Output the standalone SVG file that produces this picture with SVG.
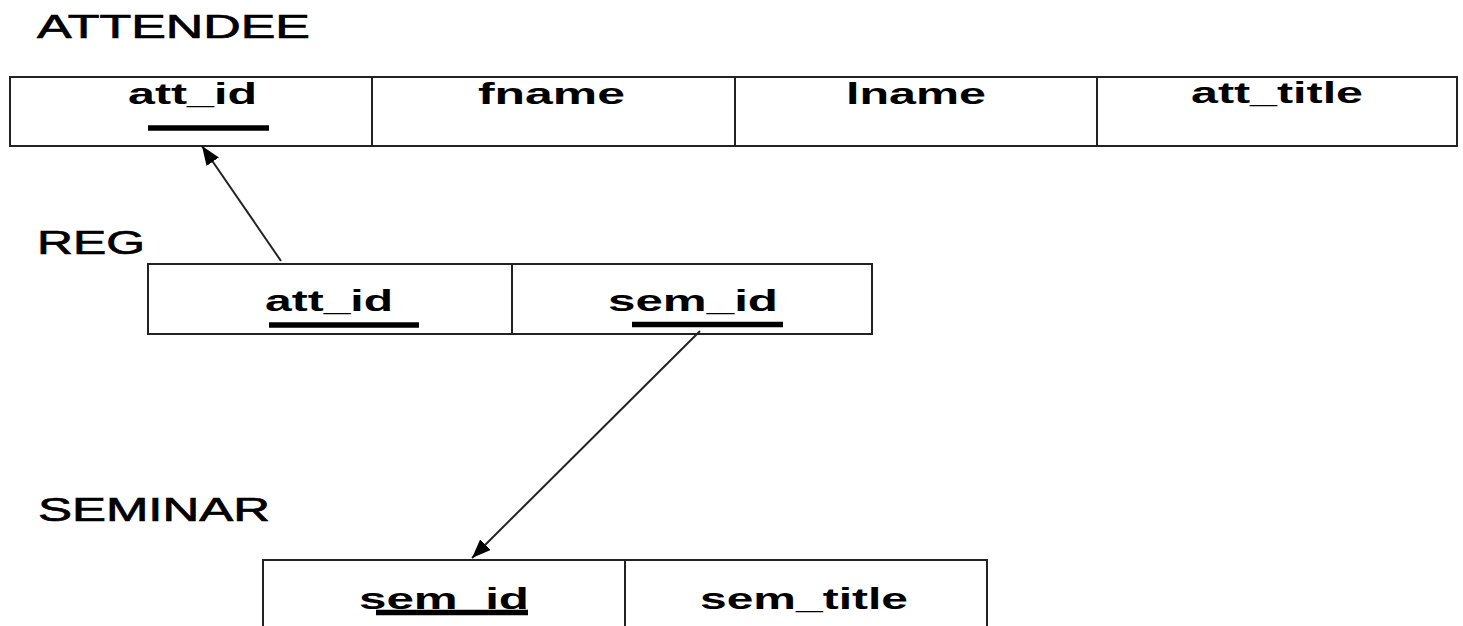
<svg xmlns="http://www.w3.org/2000/svg" width="1463" height="626" viewBox="0 0 1463 626">
<style>
.title{font-family:"Liberation Sans",Arial,sans-serif;font-size:33px;fill:#000;stroke:#000;stroke-width:0.7}
.field{font-family:"Liberation Sans",Arial,sans-serif;font-size:30px;font-weight:bold;fill:#000}
.box{fill:#fff;stroke:#222;stroke-width:2}
.div{stroke:#222;stroke-width:2}
.ul{stroke:#000;stroke-width:5.5}
.conn{stroke:#222;stroke-width:2;fill:none}
</style>
<defs>
<marker id="arrow" viewBox="0 0 19 15" refX="19" refY="7.5" markerWidth="19" markerHeight="15" markerUnits="userSpaceOnUse" orient="auto">
<polygon points="0,0 19,7.5 0,15" fill="#000"/>
</marker>
</defs>
<rect width="1463" height="626" fill="#fff"/>
<g id="attendee">
<text class="title" x="37" y="38" textLength="273" lengthAdjust="spacingAndGlyphs">ATTENDEE</text>
<rect class="box" x="10" y="77" width="1447" height="69"/>
<line class="div" x1="372" y1="77" x2="372" y2="146"/>
<line class="div" x1="735" y1="77" x2="735" y2="146"/>
<line class="div" x1="1097" y1="77" x2="1097" y2="146"/>
<text class="field" x="128" y="104" textLength="129" lengthAdjust="spacingAndGlyphs">att_id</text>
<line class="ul" x1="148" y1="128" x2="269" y2="128"/>
<text class="field" x="478" y="104" textLength="147" lengthAdjust="spacingAndGlyphs">fname</text>
<text class="field" x="846" y="104" textLength="140" lengthAdjust="spacingAndGlyphs">lname</text>
<text class="field" x="1191" y="103" textLength="172" lengthAdjust="spacingAndGlyphs">att_title</text>
</g>
<g id="reg">
<text class="title" x="37" y="254" textLength="108" lengthAdjust="spacingAndGlyphs">REG</text>
<rect class="box" x="148" y="264" width="724" height="70"/>
<line class="div" x1="512" y1="264" x2="512" y2="334"/>
<text class="field" x="265" y="311" textLength="128" lengthAdjust="spacingAndGlyphs">att_id</text>
<line class="ul" x1="269" y1="325" x2="419" y2="325"/>
<text class="field" x="608" y="311" textLength="170" lengthAdjust="spacingAndGlyphs">sem_id</text>
<line class="ul" x1="632" y1="324.5" x2="783" y2="324.5"/>
</g>
<g id="seminar">
<text class="title" x="38" y="521" textLength="232" lengthAdjust="spacingAndGlyphs">SEMINAR</text>
<rect class="box" x="263" y="560" width="724" height="100"/>
<line class="div" x1="625" y1="560" x2="625" y2="660"/>
<text class="field" x="359" y="609" textLength="170" lengthAdjust="spacingAndGlyphs">sem_id</text>
<line class="ul" x1="376" y1="612.5" x2="528" y2="612.5"/>
<text class="field" x="700" y="609" textLength="208" lengthAdjust="spacingAndGlyphs">sem_title</text>
</g>
<g id="connectors">
<line class="conn" x1="281" y1="261" x2="202" y2="146" marker-end="url(#arrow)"/>
<line class="conn" x1="700" y1="331" x2="472" y2="558" marker-end="url(#arrow)"/>
</g>
</svg>
